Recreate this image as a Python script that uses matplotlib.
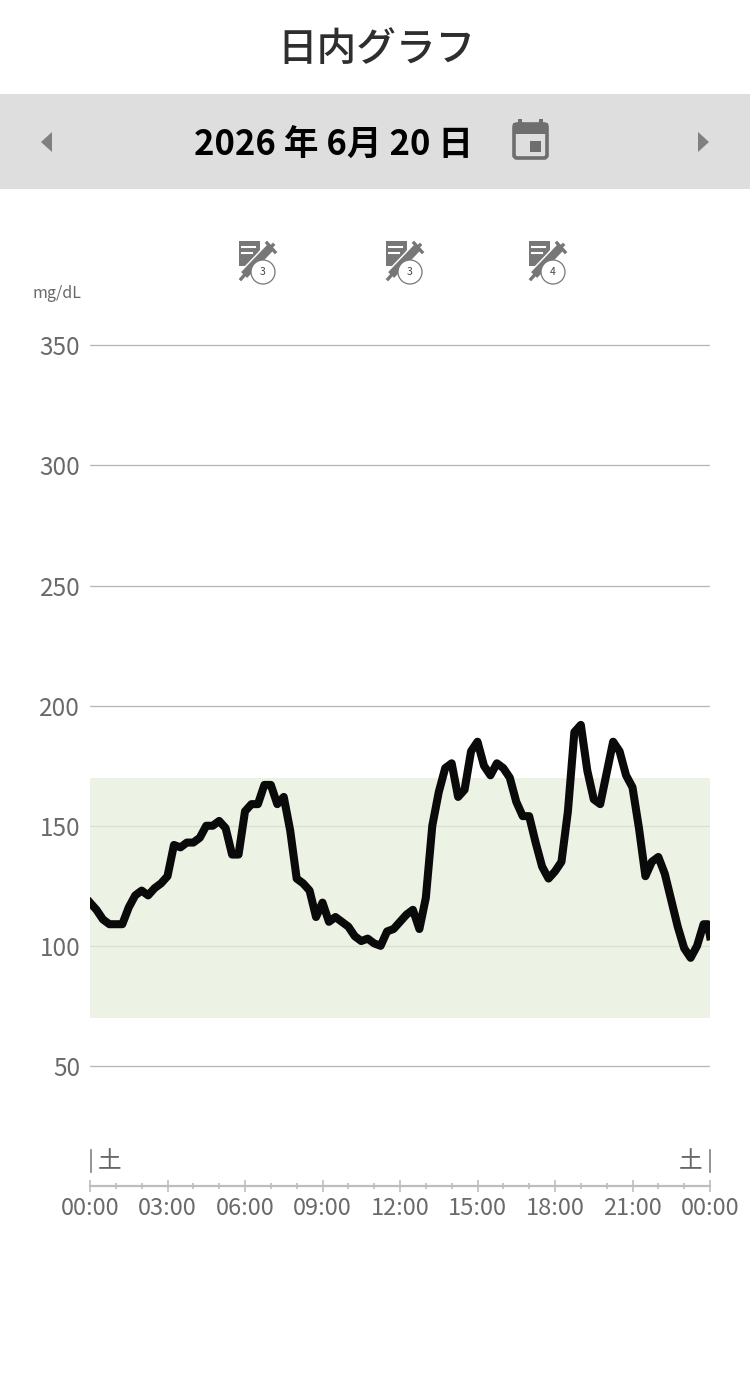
import matplotlib
matplotlib.use("Agg")
import matplotlib.pyplot as plt
from matplotlib.patches import Circle, Polygon, Rectangle, FancyBboxPatch

plt.rcParams['font.family'] = ['Noto Sans CJK JP', 'DejaVu Sans']

W, H = 750, 1397

# 血糖値 (mg/dL) 15 分毎
minutes = list(range(0, 1440, 15)) + [1435, 1440]
glucose = [118, 115, 111, 109, 109, 109, 116, 121, 123, 121,
           124, 126, 129, 142, 141, 143, 143, 145, 150, 150,
           152, 149, 138, 138, 156, 159, 159, 167, 167, 159,
           162, 148, 128, 126, 123, 112, 118, 110, 112, 110,
           108, 104, 102, 103, 101, 100, 106, 107, 110, 113,
           115, 107, 120, 150, 164, 174, 176, 162, 165, 181,
           185, 175, 171, 176, 174, 170, 160, 154, 154, 143,
           133, 128, 131, 135, 156, 189, 192, 173, 161, 159,
           172, 185, 181, 171, 166, 149, 129, 135, 137, 130,
           119, 108, 99, 95, 100, 109, 109, 104]

y_ticks = [50, 100, 150, 200, 250, 300, 350]
x_major = [0, 180, 360, 540, 720, 900, 1080, 1260, 1440]
x_minor = [m for m in range(0, 1441, 60) if m not in x_major]
x_labels = ["00:00", "03:00", "06:00", "09:00", "12:00", "15:00", "18:00", "21:00", "00:00"]
target_low, target_high = 70, 170

title = "日内グラフ"
date_text = "2026 年 6月 20 日"
weekday = "土"
unit = "mg/dL"
injection_x = [263, 410, 553]
injection_counts = ["3", "3", "4"]

fig = plt.figure(figsize=(W / 100, H / 100), dpi=100, facecolor="white")

# グラフ本体
px_left, px_right = 90, 710
px_bottom, px_top = 1186, 333.4
ax = fig.add_axes([px_left / W, 1 - px_bottom / H,
                   (px_right - px_left) / W, (px_bottom - px_top) / H])
ax.set_xlim(0, 1440)
ax.set_ylim(0, 355)
ax.patch.set_alpha(0)

ax.set_yticks(y_ticks)
ax.set_xticks(x_major)
ax.set_xticklabels(x_labels)
ax.set_xticks(x_minor, minor=True)
ax.grid(axis="y", color="#b4b4b4", lw=0.9, zorder=1)
ax.set_axisbelow(True)
ax.axhspan(target_low, target_high, color="#e6eedb", alpha=0.75, lw=0, zorder=1.5)
ax.plot(minutes, glucose, color="#0a0a0a", lw=5.8, solid_joinstyle="round", zorder=3)

for s in ["top", "left", "right"]:
    ax.spines[s].set_visible(False)
ax.spines["bottom"].set_color("#bdbdbd")
ax.spines["bottom"].set_linewidth(1.6)
ax.tick_params(axis="y", length=0, pad=7, labelsize=17.5, labelcolor="#6a6a6a")
ax.tick_params(axis="x", which="major", direction="inout", length=9, width=1.2,
               color="#bdbdbd", pad=3.5, labelsize=17, labelcolor="#6a6a6a")
ax.tick_params(axis="x", which="minor", direction="inout", length=4.5, width=1.2,
               color="#bdbdbd")

# 画面全体用のオーバーレイ (座標はピクセル)
ov = fig.add_axes([0, 0, 1, 1])
ov.set_xlim(0, W)
ov.set_ylim(H, 0)
ov.axis("off")
ov.patch.set_alpha(0)

ov.text(376, 50, title, ha="center", va="center", fontsize=28.5, color="#2e2e2e",
        fontweight="medium")
ov.add_patch(Rectangle((0, 94), W, 95, color="#dedede", lw=0))
ov.text(334, 145, date_text, ha="center", va="center", fontsize=25,
        fontweight="bold", color="black")
ov.add_patch(Polygon([[52, 132], [52, 152], [41, 142]], color="#808080", lw=0))
ov.add_patch(Polygon([[698, 132], [698, 152], [709, 142]], color="#808080", lw=0))

# カレンダーアイコン
cal = "#6e6e6e"
ov.add_patch(FancyBboxPatch((514, 124), 33, 34, boxstyle="round,pad=0,rounding_size=3",
                            fc="none", ec=cal, lw=2.6))
ov.add_patch(Rectangle((513, 123), 35, 11, color=cal, lw=0))
ov.add_patch(Rectangle((518, 119), 4, 6, color=cal, lw=0))
ov.add_patch(Rectangle((539, 119), 4, 6, color=cal, lw=0))
ov.add_patch(Rectangle((530, 141), 11, 11, color=cal, lw=0))

# インスリンアイコン
icon = "#777777"
for cx, n in zip(injection_x, injection_counts):
    ov.add_patch(Polygon([[cx - 24, 241], [cx - 3, 241], [cx - 3, 250], [cx - 16, 266], [cx - 24, 266]],
                         color=icon, lw=0))
    ov.plot([cx - 21, cx - 8], [247, 247], color="white", lw=1.5)
    ov.plot([cx - 21, cx - 11], [253, 253], color="white", lw=1.5)
    ov.plot([cx - 21, cx + 8], [277, 247], color="white", lw=8)
    ov.plot([cx - 22, cx - 14], [279, 270], color=icon, lw=2.4)
    ov.plot([cx - 16, cx + 5], [272, 250], color=icon, lw=6)
    ov.plot([cx + 3, cx + 10], [252, 245], color=icon, lw=2.4)
    ov.plot([cx + 4, cx + 12], [243, 252], color=icon, lw=2.4)
    ov.add_patch(Circle((cx, 272), 12, fc="white", ec="#777777", lw=0.9, zorder=4))
    ov.text(cx, 272, n, ha="center", va="center", fontsize=7.5, color="#444444", zorder=5)

ov.text(33, 294, unit, ha="left", va="center", fontsize=11.5, color="#6a6a6a")

# 曜日ラベル
ov.plot([91, 91], [1150, 1172], color="#808080", lw=1.2)
ov.plot([710, 710], [1150, 1172], color="#808080", lw=1.2)
ov.text(110, 1162, weekday, ha="center", va="center", fontsize=17, color="#666666")
ov.text(691, 1162, weekday, ha="center", va="center", fontsize=17, color="#666666")

fig.savefig("out.png", dpi=100)
